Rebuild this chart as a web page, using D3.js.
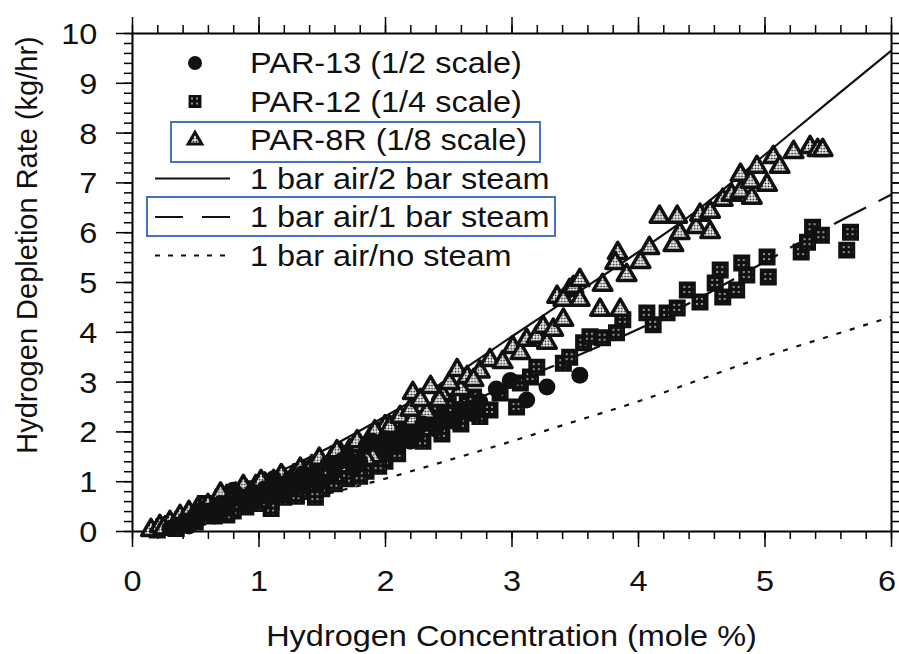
<html>
<head>
  <meta charset="utf8">
  <title>Hydrogen depletion rate</title>
  <style>
    * { margin: 0; padding: 0; }
    body { background: #fff; }
    text { font-family: "Liberation Sans", Arial, sans-serif; fill: #111; }
  </style>
</head>
<body>
  <script src="https://cdn.jsdelivr.net/npm/d3@7"></script>
  <script>
    var w = 899
    var h = 654

    // PAR-13 (1/2 scale) - x: mole %, y: kg/hr
    var par13 = [
      [0.3, 0.05], [0.35, 0.12], [0.42, 0.2], [0.5, 0.28], [0.6, 0.4], [0.7, 0.55],
      [0.78, 0.62], [0.85, 0.7], [0.95, 0.78], [1.05, 0.85], [1.15, 0.95], [1.25, 1.05],
      [1.35, 1.15], [1.45, 1.2], [1.55, 1.35], [1.7, 1.5], [1.85, 1.7], [2.0, 1.85],
      [2.15, 2.0], [2.3, 2.15], [2.45, 2.3], [2.6, 2.45], [2.75, 2.6], [2.88, 2.85],
      [2.99, 3.02], [3.12, 2.63], [3.28, 2.89], [3.54, 3.13],
      [0.45, 0.1], [0.65, 0.3], [0.9, 0.5], [1.2, 0.75], [1.5, 1.0], [1.75, 1.25],
      [2.0, 1.6], [2.2, 1.8], [2.4, 2.05], [2.55, 2.2], [2.7, 2.35],
      [0.55, 0.42], [0.75, 0.45], [0.88, 0.62], [1.0, 0.68], [1.1, 0.7], [1.3, 0.9],
      [1.4, 1.05], [1.6, 1.2], [1.65, 1.4], [1.8, 1.4], [1.9, 1.8], [2.1, 1.7],
      [2.25, 1.95], [1.12, 1.05], [0.8, 0.82]
    ]

    // PAR-12 (1/4 scale)
    var par12 = [
      [0.2, 0.02], [0.25, 0.08], [0.32, 0.15], [0.4, 0.22], [0.48, 0.3], [0.55, 0.35],
      [0.62, 0.42], [0.7, 0.5], [0.78, 0.55], [0.85, 0.6], [0.92, 0.68], [1.0, 0.72],
      [1.08, 0.8], [1.15, 0.85], [1.22, 0.92], [1.3, 0.98], [1.38, 1.05], [1.45, 1.1],
      [1.52, 1.18], [1.6, 1.25], [1.68, 1.32], [1.75, 1.4], [1.82, 1.5], [1.9, 1.58],
      [1.97, 1.65], [2.05, 1.75], [2.12, 1.85], [2.2, 1.95], [0.9, 0.48], [1.1, 0.58],
      [1.3, 0.7], [1.5, 0.85], [1.7, 1.05], [1.85, 1.2], [2.0, 1.4],
      [0.35, 0.05], [0.5, 0.18], [0.65, 0.3], [0.8, 0.4], [1.0, 0.55], [1.2, 0.68],
      [1.4, 0.8], [1.6, 0.95], [1.8, 1.1], [1.95, 1.3], [2.1, 1.55], [2.3, 1.8],
      [2.45, 1.95], [2.6, 2.15], [2.75, 2.3], [0.95, 0.85], [1.25, 1.0], [1.55, 1.3],
      [1.8, 1.6], [2.0, 1.9],
      [0.58, 0.55], [0.72, 0.68], [0.88, 0.78], [1.05, 0.95], [1.18, 0.75], [1.35, 0.85],
      [1.42, 1.25], [1.62, 1.45], [1.72, 1.55], [1.9, 1.75], [2.15, 2.1], [2.38, 2.4],
      [2.5, 2.6], [2.65, 2.55], [1.1, 0.45], [1.45, 0.68], [0.75, 0.32],
      [2.25, 2.03], [2.33, 2.17], [2.43, 2.23], [2.54, 2.37], [2.62, 2.43], [2.7, 2.69],
      [2.83, 2.43], [2.91, 2.77], [3.04, 2.49], [3.07, 2.97], [3.15, 3.09], [3.2, 3.29],
      [3.41, 3.37], [3.46, 3.49], [3.57, 3.78], [3.62, 3.9], [3.72, 3.88], [3.83, 3.98],
      [3.88, 4.24], [4.07, 4.38], [4.12, 4.14], [4.23, 4.38], [4.31, 4.48], [4.39, 4.84],
      [4.49, 4.6], [4.61, 4.98], [4.65, 5.24], [4.67, 4.7], [4.78, 4.84], [4.82, 5.38],
      [4.86, 5.14], [5.02, 5.5], [5.03, 5.1], [5.29, 5.6], [5.34, 5.8], [5.38, 6.1],
      [5.45, 5.94], [5.65, 5.64], [5.68, 6.0]
    ]

    // PAR-8R (1/8 scale)
    var par8r = [
      [0.15, 0.02], [0.22, 0.1], [0.3, 0.18], [0.38, 0.3], [0.45, 0.38], [0.52, 0.45],
      [0.6, 0.52], [0.68, 0.6], [0.75, 0.7], [0.82, 0.75], [0.9, 0.82], [0.98, 0.9],
      [1.05, 0.95], [1.12, 1.0], [1.2, 1.05], [1.28, 1.12], [1.35, 1.2], [1.42, 1.3],
      [1.5, 1.35], [1.58, 1.45], [1.65, 1.55], [1.72, 1.62], [1.8, 1.72], [1.88, 1.85],
      [1.95, 1.95], [2.0, 2.1], [0.4, 0.1], [1.0, 0.6], [1.3, 0.9], [1.6, 1.1], [1.9, 1.5],
      [0.25, 0.05], [0.5, 0.25], [0.65, 0.4], [0.8, 0.55], [0.95, 0.65], [1.1, 0.8],
      [1.25, 0.9], [1.4, 1.0], [1.55, 1.15], [1.7, 1.3], [1.85, 1.45], [0.7, 0.75],
      [0.88, 0.9], [1.02, 1.0], [1.18, 1.12], [1.33, 1.25], [1.48, 1.45], [1.62, 1.6],
      [1.78, 1.8], [1.92, 2.0], [2.08, 2.15], [2.3, 2.5], [2.45, 2.75], [2.6, 2.85],
      [2.75, 3.2],
      [2.04, 2.09], [2.14, 2.03], [2.12, 2.29], [2.22, 2.23], [2.2, 2.43], [2.33, 2.37],
      [2.22, 2.77], [2.28, 2.63], [2.43, 2.63], [2.36, 2.89], [2.51, 2.97], [2.57, 3.23],
      [2.65, 3.09], [2.7, 3.03], [2.83, 3.43], [2.93, 3.39], [3.01, 3.69], [3.07, 3.57],
      [3.12, 3.84], [3.2, 3.9], [3.28, 3.78], [3.25, 4.1], [3.33, 4.04], [3.41, 4.24],
      [3.36, 4.7], [3.46, 4.84], [3.41, 4.64], [3.49, 4.9], [3.54, 5.04], [3.54, 4.64],
      [3.7, 4.44], [3.86, 4.44], [3.72, 4.94], [3.84, 5.58], [3.82, 5.38], [3.91, 5.14],
      [4.02, 5.4], [4.09, 5.68], [4.28, 5.74], [4.33, 5.98], [4.46, 6.1], [4.57, 6.0],
      [4.17, 6.31], [4.31, 6.31], [4.49, 6.35], [4.57, 6.41], [4.67, 6.65], [4.74, 6.75],
      [4.81, 6.81], [4.9, 6.69], [4.81, 7.15], [4.89, 7.01], [5.02, 6.95], [4.94, 7.31],
      [5.07, 7.51], [5.12, 7.31], [5.23, 7.61], [5.36, 7.71], [5.42, 7.65], [5.46, 7.65]
    ]

    // model curves
    var modelX = [0.15, 0.5, 1, 1.5, 2, 2.5, 3, 3.5, 4, 4.5, 5, 5.5, 6]
    var steam2 = [0, 0.45, 1.0, 1.6, 2.3, 3.05, 3.9, 4.75, 5.6, 6.5, 7.55, 8.6, 9.64]
    var steam1 = [0, 0.3, 0.75, 1.25, 1.8, 2.4, 2.95, 3.5, 4.05, 4.7, 5.4, 6.1, 6.75]
    var noSteam = [0, 0.2, 0.45, 0.72, 1.05, 1.42, 1.8, 2.2, 2.6, 3.05, 3.5, 3.9, 4.3]

    var xTicks = [0, 1, 2, 3, 4, 5, 6]
    var yTicks = [0, 1, 2, 3, 4, 5, 6, 7, 8, 9, 10]
    var legendLabels = ['PAR-13 (1/2 scale)', 'PAR-12 (1/4 scale)', 'PAR-8R (1/8 scale)',
      '1 bar air/2 bar steam', '1 bar air/1 bar steam', '1 bar air/no steam']

    var margin = { left: 132, right: 8, top: 33, bottom: 123 }
    var xScale = d3.scaleLinear().domain([0, 6]).range([margin.left, w - margin.right])
    var yScale = d3.scaleLinear().domain([0, 10]).range([h - margin.bottom, margin.top])
    var stretch = 'scale(1.12,1)'

    var svg = d3.select('body').append('svg').attr('width', w).attr('height', h)

    var defs = svg.append('defs')
    var p1 = defs.append('pattern').attr('id', 'sq').attr('width', 5).attr('height', 5)
      .attr('patternUnits', 'userSpaceOnUse')
    p1.append('rect').attr('width', 5).attr('height', 5).attr('fill', '#111')
    p1.append('circle').attr('cx', 2).attr('cy', 2).attr('r', 0.9).attr('fill', '#ccc')
    var p2 = defs.append('pattern').attr('id', 'tri').attr('width', 3).attr('height', 3)
      .attr('patternUnits', 'userSpaceOnUse')
    p2.append('rect').attr('width', 3).attr('height', 3).attr('fill', '#fff')
    p2.append('circle').attr('cx', 1.5).attr('cy', 1.5).attr('r', 1).attr('fill', '#222')

    // minor ticks every 0.2
    var xMinor = d3.range(0, 6.001, 0.2).map(d => +d.toFixed(1))
    var yMinor = d3.range(0, 10.001, 0.2).map(d => +d.toFixed(1))

    function axisLayer(axisFn, scale, ticks, minor, y0, x0, labels) {
      var gMinor = svg.append('g').attr('transform', 'translate(' + x0 + ',' + y0 + ')')
        .call(axisFn(scale).tickValues(minor).tickSize(8).tickFormat('').tickSizeOuter(0))
      gMinor.select('.domain').attr('stroke-width', 2)
      gMinor.selectAll('.tick line').attr('stroke-width', 1.5)
      var gMajor = svg.append('g').attr('transform', 'translate(' + x0 + ',' + y0 + ')')
        .call(axisFn(scale).tickValues(ticks).tickSize(16).tickSizeOuter(0)
          .tickFormat(labels ? d3.format('d') : ''))
      gMajor.select('.domain').remove()
      gMajor.selectAll('.tick line').attr('stroke-width', 1.5)
      return gMajor
    }

    var gx = axisLayer(d3.axisBottom, xScale, xTicks, xMinor, yScale(0), 0, true)
    gx.selectAll('text').attr('font-size', 29).attr('fill', '#111')
      .attr('y', 39).attr('x', d => d === 6 ? -4 : 0).attr('transform', stretch)
    var gy = axisLayer(d3.axisLeft, yScale, yTicks, yMinor, 0, xScale(0), true)
    gy.selectAll('text').attr('font-size', 29).attr('fill', '#111')
      .attr('x', -31).attr('dy', '0.36em').attr('transform', stretch)
    axisLayer(d3.axisTop, xScale, xTicks, xMinor, yScale(10), 0, false)
    axisLayer(d3.axisRight, yScale, yTicks, yMinor, 0, xScale(6), false)

    // model lines
    var lineGen = d3.line().x(d => xScale(d[0])).y(d => yScale(d[1])).curve(d3.curveMonotoneX)
    var models = [
      { vals: steam2, dash: null },
      { vals: steam1, dash: '36,14' },
      { vals: noSteam, dash: '5,9' }
    ]
    models.forEach(function (m) {
      svg.append('path')
        .datum(modelX.map((x, i) => [x, m.vals[i]]))
        .attr('d', lineGen)
        .attr('fill', 'none')
        .attr('stroke', '#111')
        .attr('stroke-width', 2.2)
        .attr('stroke-dasharray', m.dash)
    })

    var triSym = d3.symbol().type(d3.symbolTriangle).size(150)
    var sqSym = d3.symbol().type(d3.symbolSquare).size(210)

    svg.append('g').selectAll('path')
      .data(par12).enter().append('path')
      .attr('d', sqSym)
      .attr('transform', d => 'translate(' + xScale(d[0]) + ',' + yScale(d[1]) + ')')
      .attr('fill', 'url(#sq)').attr('stroke', '#111').attr('stroke-width', 2.5)

    svg.append('g').selectAll('path')
      .data(par8r).enter().append('path')
      .attr('d', triSym)
      .attr('transform', d => 'translate(' + xScale(d[0]) + ',' + yScale(d[1]) + ')')
      .attr('fill', 'url(#tri)').attr('stroke', '#111').attr('stroke-width', 3.5)
      .attr('stroke-linejoin', 'round')

    svg.append('g').selectAll('circle')
      .data(par13).enter().append('circle')
      .attr('cx', d => xScale(d[0])).attr('cy', d => yScale(d[1])).attr('r', 8.5)
      .attr('fill', '#111')

    // legend
    var lg = svg.append('g')
    var rowY = i => 63 + i * 38.5
    legendLabels.forEach(function (t, i) {
      lg.append('text').text(t).attr('x', 0).attr('y', 0).attr('font-size', 29)
        .attr('transform', 'translate(250,' + (rowY(i) + 10) + ') ' + stretch)
    })
    lg.append('circle').attr('cx', 195).attr('cy', rowY(0)).attr('r', 7).attr('fill', '#111')
    lg.append('path').attr('d', d3.symbol().type(d3.symbolSquare).size(130))
      .attr('transform', 'translate(195,' + rowY(1) + ')')
      .attr('fill', 'url(#sq)').attr('stroke', '#111').attr('stroke-width', 1.5)
    lg.append('path').attr('d', d3.symbol().type(d3.symbolTriangle).size(80))
      .attr('transform', 'translate(195,' + rowY(2) + ')')
      .attr('fill', 'url(#tri)').attr('stroke', '#111').attr('stroke-width', 3)
    var dashes = [null, '28,19', '5,8']
    dashes.forEach(function (d, i) {
      lg.append('line').attr('x1', 155).attr('x2', 230)
        .attr('y1', rowY(3 + i)).attr('y2', rowY(3 + i))
        .attr('stroke', '#111').attr('stroke-width', 2.2).attr('stroke-dasharray', d)
    })

    // blue highlight boxes
    lg.append('rect').attr('x', 171).attr('y', 122).attr('width', 369).attr('height', 40)
      .attr('fill', 'none').attr('stroke', '#4472c4').attr('stroke-width', 2)
    lg.append('rect').attr('x', 147).attr('y', 197).attr('width', 408).attr('height', 39)
      .attr('fill', 'none').attr('stroke', '#4472c4').attr('stroke-width', 2)

    // axis titles
    svg.append('text').text('Hydrogen Concentration (mole %)')
      .attr('text-anchor', 'middle').attr('font-size', 29)
      .attr('transform', 'translate(' + ((xScale(0) + xScale(6)) / 2) + ',646) ' + stretch)
    svg.append('text').text('Hydrogen Depletion Rate (kg/hr)')
      .attr('text-anchor', 'middle').attr('font-size', 29)
      .attr('transform', 'translate(37,' + ((yScale(0) + yScale(10)) / 2 - 37) + ') rotate(-90)')
  </script>
</body>
</html>
